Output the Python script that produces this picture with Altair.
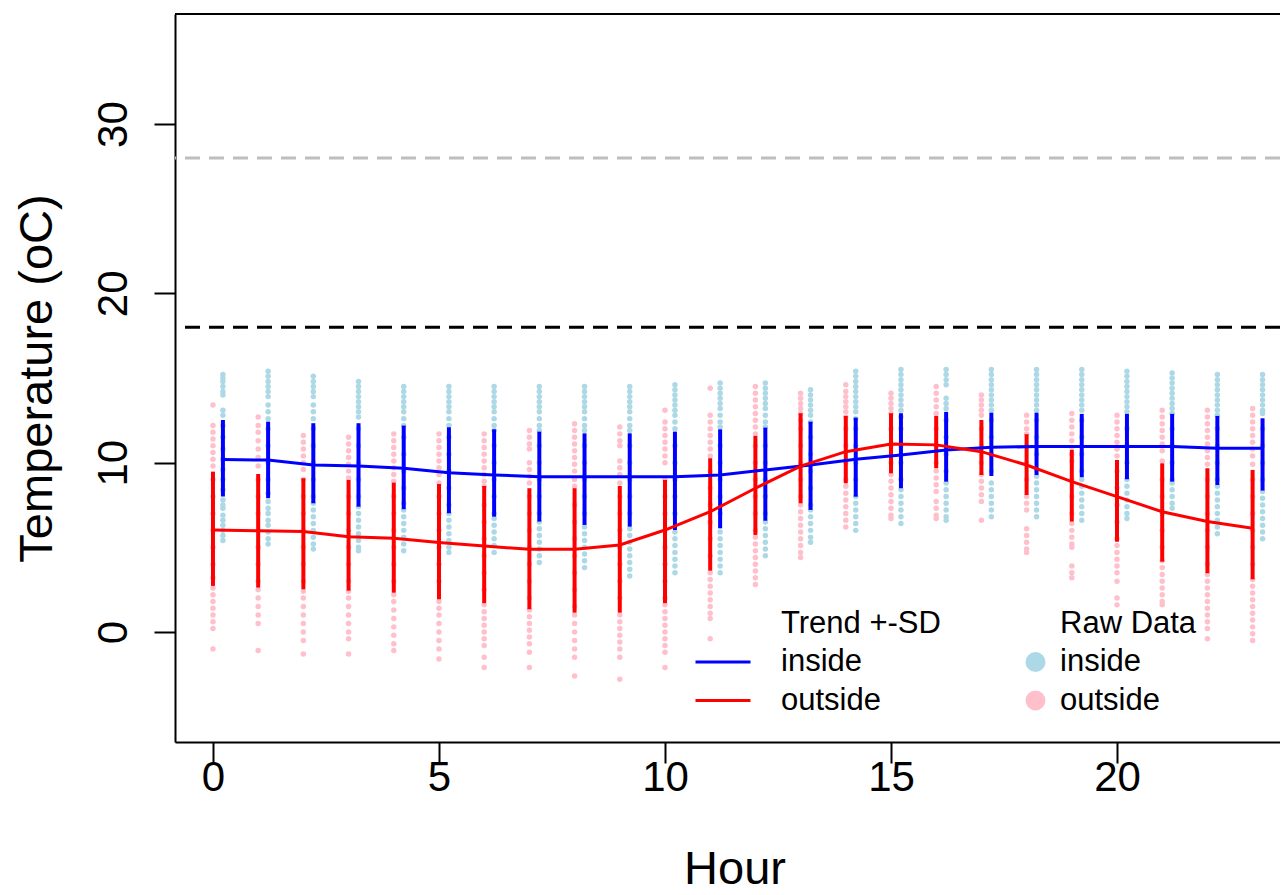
import altair as alt
import pandas as pd

hours = list(range(24))

inside_mean = [10.18, 10.15, 9.86, 9.80, 9.67, 9.41, 9.27, 9.17, 9.17, 9.17, 9.17, 9.27,
               9.57, 9.86, 10.20, 10.45, 10.75, 10.91, 10.95, 10.95, 10.95, 10.95, 10.85, 10.85]
inside_upper = [12.52, 12.42, 12.33, 12.33, 12.19, 12.09, 11.97, 11.83, 11.73, 11.73, 11.83, 11.97,
                12.07, 12.42, 12.66, 12.92, 13.00, 12.95, 12.95, 12.88, 12.88, 12.88, 12.76, 12.62]
inside_lower = [8.00, 7.90, 7.60, 7.40, 7.25, 7.01, 6.81, 6.52, 6.32, 6.22, 6.02, 6.12,
                6.57, 7.21, 7.99, 8.49, 8.88, 9.21, 9.27, 9.14, 9.02, 8.88, 8.68, 8.35]

outside_mean = [6.02, 5.98, 5.93, 5.63, 5.53, 5.28, 5.08, 4.88, 4.88, 5.14, 6.02, 7.10,
                8.49, 9.80, 10.65, 11.10, 11.05, 10.65, 9.86, 8.88, 7.99, 7.10, 6.52, 6.12]
outside_upper = [9.47, 9.33, 9.08, 8.98, 8.82, 8.74, 8.62, 8.49, 8.49, 8.62, 8.98, 10.26,
                 11.58, 12.92, 12.76, 12.92, 12.76, 12.52, 11.68, 10.75, 10.16, 9.96, 9.67, 9.57]
outside_lower = [2.72, 2.62, 2.52, 2.44, 2.32, 1.93, 1.70, 1.34, 1.14, 1.14, 1.70, 3.62,
                 5.73, 7.60, 8.78, 9.37, 9.67, 9.27, 8.09, 6.52, 5.33, 4.15, 3.47, 3.11]

inside_raw = [
    [15.2, 15.0, 14.8, 14.5, 14.2, 14.0, 13.1, 12.8, 12.2, 11.5, 10.8, 10.2, 9.6, 9.0, 8.4, 7.8, 7.5, 7.3, 6.9, 6.6, 6.3, 6.0, 5.7, 5.4],
    [15.4, 15.1, 14.8, 14.5, 14.2, 13.9, 13.4, 13.0, 12.6, 12.0, 11.0, 10.0, 9.0, 8.2, 7.7, 7.3, 7.0, 6.6, 6.3, 5.9, 5.5, 5.2],
    [15.1, 14.8, 14.5, 14.2, 13.9, 13.4, 13.0, 12.6, 12.0, 11.0, 10.0, 9.0, 8.0, 7.6, 7.2, 6.8, 6.4, 6.0, 5.6, 5.2, 4.9],
    [14.8, 14.5, 14.2, 13.9, 13.6, 13.3, 13.0, 12.7, 12.0, 11.0, 10.0, 9.0, 8.0, 7.4, 7.0, 6.6, 6.2, 5.8, 5.4, 5.0, 4.8],
    [14.5, 14.2, 13.9, 13.6, 13.3, 13.0, 12.6, 12.2, 11.5, 10.5, 9.5, 8.5, 7.6, 7.2, 6.8, 6.4, 6.0, 5.6, 5.2, 4.8],
    [14.5, 14.2, 13.9, 13.6, 13.3, 13.0, 12.6, 12.2, 11.5, 10.5, 9.5, 8.5, 7.5, 7.0, 6.6, 6.2, 5.8, 5.4, 5.0, 4.7],
    [14.5, 14.2, 13.9, 13.6, 13.3, 13.0, 12.6, 12.2, 11.9, 11.0, 10.0, 9.0, 8.0, 7.0, 6.7, 6.3, 5.9, 5.5, 5.1, 4.7],
    [14.5, 14.2, 13.9, 13.6, 13.3, 13.0, 12.6, 12.2, 11.9, 11.0, 10.0, 9.0, 8.0, 7.0, 6.5, 6.1, 5.7, 5.3, 4.9, 4.5, 4.1],
    [14.5, 14.2, 13.9, 13.6, 13.3, 13.0, 12.6, 12.2, 11.9, 11.0, 10.0, 9.0, 8.0, 7.0, 6.2, 5.8, 5.4, 5.0, 4.6, 4.2, 3.8],
    [14.5, 14.2, 13.9, 13.6, 13.3, 13.0, 12.6, 12.2, 11.9, 11.0, 10.0, 9.0, 8.0, 7.0, 6.1, 5.7, 5.3, 4.9, 4.5, 4.1, 3.7, 3.3],
    [14.6, 14.3, 14.0, 13.7, 13.4, 13.1, 12.8, 12.4, 12.0, 11.0, 10.0, 9.0, 8.0, 7.0, 5.9, 5.5, 5.1, 4.7, 4.3, 3.9, 3.5],
    [14.7, 14.4, 14.1, 13.8, 13.5, 13.2, 12.8, 12.4, 12.1, 11.0, 10.0, 9.0, 8.0, 7.0, 5.9, 5.5, 5.1, 4.7, 4.3, 3.9, 3.5],
    [14.7, 14.4, 14.1, 13.8, 13.5, 13.2, 12.8, 12.4, 12.1, 11.0, 10.0, 9.0, 8.0, 7.0, 6.5, 6.1, 5.7, 5.3, 4.9, 4.5],
    [14.3, 14.0, 13.7, 13.4, 13.1, 12.8, 12.4, 11.5, 10.5, 9.5, 8.5, 7.5, 7.2, 6.8, 6.4, 6.0, 5.6, 5.3],
    [15.4, 15.1, 14.8, 14.5, 14.2, 13.9, 13.6, 13.3, 13.0, 12.6, 12.0, 11.0, 10.0, 9.0, 8.0, 7.6, 7.2, 6.8, 6.4, 6.0],
    [15.5, 15.2, 14.9, 14.6, 14.3, 14.0, 13.7, 13.4, 13.1, 12.7, 12.0, 11.0, 10.0, 9.0, 8.4, 8.0, 7.6, 7.2, 6.8, 6.4],
    [15.5, 15.2, 14.9, 14.6, 13.8, 13.5, 13.2, 12.5, 11.5, 10.5, 9.5, 8.8, 8.4, 8.0, 7.6, 7.2, 6.8, 6.6],
    [15.5, 15.2, 14.9, 14.6, 14.3, 14.0, 13.7, 13.4, 13.1, 12.5, 11.5, 10.5, 9.5, 8.8, 8.4, 8.0, 7.6, 7.2, 6.8],
    [15.5, 15.2, 14.9, 14.6, 14.3, 14.0, 13.7, 13.4, 13.1, 12.5, 11.5, 10.5, 9.6, 9.2, 8.8, 8.4, 8.0, 7.6, 7.2, 6.8],
    [15.5, 15.2, 14.9, 14.6, 14.3, 14.0, 13.7, 13.4, 13.1, 12.5, 11.5, 10.5, 9.5, 9.0, 8.6, 8.2, 7.8, 7.4, 7.0, 6.6],
    [15.4, 15.1, 14.8, 14.5, 14.2, 13.9, 13.6, 13.3, 13.0, 12.0, 11.0, 10.0, 9.0, 8.6, 8.2, 7.8, 7.4, 7.0, 6.7],
    [15.3, 15.0, 14.7, 14.4, 14.1, 13.8, 13.5, 13.2, 12.9, 12.0, 11.0, 10.0, 9.0, 8.8, 8.4, 8.0, 7.6, 7.3],
    [15.2, 14.9, 14.6, 14.3, 14.0, 13.7, 13.4, 13.1, 12.8, 12.0, 11.0, 10.0, 9.0, 8.6, 8.2, 7.8, 7.4, 7.0, 6.6, 6.2, 5.8],
    [15.2, 14.9, 14.6, 14.3, 14.0, 13.7, 13.4, 13.1, 12.9, 12.0, 11.0, 10.0, 9.0, 8.3, 7.9, 7.5, 7.1, 6.7, 6.3, 5.9, 5.5],
]

outside_raw = [
    [13.4, 12.2, 11.8, 11.4, 11.0, 10.6, 10.2, 9.8, 9.0, 8.0, 7.0, 6.0, 5.0, 4.0, 3.2, 2.6, 2.2, 1.8, 1.4, 1.0, 0.6, 0.2, -1.0],
    [12.7, 12.2, 11.8, 11.3, 10.8, 10.3, 9.8, 9.0, 8.0, 7.0, 6.0, 5.0, 4.0, 3.0, 2.5, 2.0, 1.5, 1.0, 0.5, -1.1],
    [11.6, 11.2, 10.8, 10.4, 10.0, 9.6, 9.0, 8.0, 7.0, 6.0, 5.0, 4.0, 3.0, 2.4, 2.0, 1.5, 1.0, 0.5, 0.0, -0.5, -1.3],
    [11.5, 11.1, 10.7, 10.3, 9.9, 9.5, 9.1, 8.0, 7.0, 6.0, 5.0, 4.0, 3.0, 2.4, 2.0, 1.5, 1.0, 0.5, 0.0, -0.4, -1.3],
    [11.7, 11.3, 10.9, 10.5, 10.1, 9.7, 9.3, 8.9, 8.0, 7.0, 6.0, 5.0, 4.0, 3.0, 2.2, 1.8, 1.3, 0.8, 0.3, -0.2, -0.7, -1.1],
    [11.7, 11.3, 10.9, 10.5, 10.1, 9.7, 9.3, 8.8, 8.0, 7.0, 6.0, 5.0, 4.0, 3.0, 1.8, 1.4, 1.0, 0.5, 0.0, -0.5, -1.0, -1.6],
    [11.7, 11.3, 10.9, 10.5, 10.1, 9.7, 9.3, 8.9, 8.6, 7.5, 6.5, 5.5, 4.5, 3.5, 2.5, 1.6, 1.2, 0.8, 0.4, 0.0, -0.4, -0.8, -1.5, -2.1],
    [11.9, 11.5, 11.1, 10.8, 10.0, 9.6, 9.2, 8.8, 8.0, 7.0, 6.0, 5.0, 4.0, 3.0, 2.0, 1.3, 0.9, 0.5, 0.1, -0.3, -0.7, -1.2, -2.1],
    [12.3, 11.9, 11.5, 11.1, 10.7, 10.3, 9.9, 9.5, 9.0, 8.6, 7.5, 6.5, 5.5, 4.5, 3.5, 2.5, 1.5, 1.0, 0.5, 0.0, -0.5, -1.0, -1.5, -2.6],
    [12.1, 11.7, 11.3, 11.0, 10.1, 9.7, 9.3, 8.8, 8.0, 7.0, 6.0, 5.0, 4.0, 3.0, 2.0, 1.0, 0.6, 0.2, -0.2, -0.6, -1.0, -1.5, -2.8],
    [13.1, 12.4, 12.0, 11.6, 11.2, 10.8, 10.4, 10.0, 9.0, 8.0, 7.0, 6.0, 5.0, 4.0, 3.0, 2.0, 1.6, 1.2, 0.8, 0.4, 0.0, -0.4, -0.8, -1.2, -2.1],
    [14.4, 12.8, 12.4, 12.0, 11.6, 11.2, 10.8, 10.4, 9.5, 8.5, 7.5, 6.5, 5.5, 4.5, 3.5, 3.1, 2.7, 2.3, 1.9, 1.5, 1.1, 0.8, -0.4],
    [14.5, 14.1, 13.7, 13.3, 12.9, 12.5, 12.1, 11.7, 11.0, 10.0, 9.0, 8.0, 7.0, 6.0, 5.6, 5.2, 4.8, 4.4, 4.0, 3.6, 3.2, 2.8],
    [14.1, 13.8, 13.5, 13.2, 12.9, 12.5, 12.0, 11.0, 10.0, 9.0, 8.0, 7.5, 7.1, 6.7, 6.3, 5.9, 5.5, 5.1, 4.7, 4.4],
    [14.6, 14.2, 13.9, 13.6, 13.3, 13.0, 12.7, 12.0, 11.0, 10.0, 9.0, 8.6, 8.2, 7.8, 7.4, 7.0, 6.6, 6.2],
    [14.1, 13.8, 13.5, 13.2, 12.9, 12.0, 11.0, 10.0, 9.3, 8.9, 8.5, 8.1, 7.7, 7.3, 6.9, 6.7],
    [14.5, 14.1, 13.7, 13.3, 12.9, 12.0, 11.0, 10.0, 9.5, 9.1, 8.7, 8.3, 7.7, 7.3, 6.9, 6.7],
    [14.0, 13.7, 13.4, 13.1, 12.8, 12.0, 11.0, 10.0, 9.3, 8.9, 8.5, 8.1, 7.7, 6.6],
    [12.8, 12.4, 12.0, 11.7, 11.0, 10.0, 9.0, 8.0, 7.6, 7.2, 6.1, 5.7, 5.3, 4.9, 4.7],
    [12.9, 12.5, 12.1, 11.7, 11.3, 10.9, 10.5, 10.1, 9.0, 8.0, 7.0, 6.4, 6.0, 5.6, 5.2, 5.0, 3.9, 3.5, 3.2],
    [12.8, 12.4, 12.0, 11.6, 11.2, 10.8, 10.4, 9.5, 8.5, 7.5, 6.5, 5.5, 5.1, 4.7, 4.3, 3.9, 3.5, 3.0, 2.0, 1.6],
    [13.1, 12.7, 12.3, 11.9, 11.5, 11.1, 10.7, 10.1, 9.0, 8.0, 7.0, 6.0, 5.0, 4.2, 3.8, 3.4, 3.0, 2.6, 2.2, 1.8, 1.6],
    [13.1, 12.7, 12.3, 11.9, 11.5, 11.1, 10.7, 10.3, 9.9, 9.0, 8.0, 7.0, 6.0, 5.0, 4.0, 3.4, 3.0, 2.6, 2.2, 1.8, 1.4, 1.0, 0.6, 0.2, -0.4],
    [13.2, 12.8, 12.4, 12.0, 11.6, 11.2, 10.8, 10.4, 9.9, 9.0, 8.0, 7.0, 6.0, 5.0, 4.0, 3.1, 2.7, 2.3, 1.9, 1.5, 1.1, 0.7, 0.3, -0.1, -0.5],
]

thresholds = [18, 28]
threshold_colors = ["#000000", "#BEBEBE"]

title_text = "Winter Te Whaiti (TWT) House 10 (7 June - 15 August)"
x_ticks = [0, 5, 10, 15, 20]
y_ticks = [0, 10, 20, 30]

# ---- tables ----
trend_rows = []
for h in hours:
    trend_rows.append({"hour": h, "series": "inside", "mean": inside_mean[h],
                       "lower": inside_lower[h], "upper": inside_upper[h]})
    trend_rows.append({"hour": h, "series": "outside", "mean": outside_mean[h],
                       "lower": outside_lower[h], "upper": outside_upper[h]})
trend_df = pd.DataFrame(trend_rows)

raw_rows = []
for h in hours:
    for v in inside_raw[h]:
        raw_rows.append({"hour": h, "series": "inside", "temp": v})
    for v in outside_raw[h]:
        raw_rows.append({"hour": h, "series": "outside", "temp": v})
raw_df = pd.DataFrame(raw_rows)

W, H = 1105, 728
FONT = "Liberation Sans"
dodge = "datum.hour + (datum.series == 'inside' ? 0.22 : 0)"

x_scale = alt.Scale(domain=[-0.84, 23.606], nice=False, zero=False)
y_scale = alt.Scale(domain=[-6.5, 36.5], nice=False, zero=False)

x_axis = alt.Axis(values=x_ticks, title="Hour", grid=False, labelFontSize=42, titleFontSize=47,
                  labelFont=FONT, titleFont=FONT, titleFontWeight="normal",
                  labelColor="black", titleColor="black", tickSize=21, tickWidth=2,
                  tickColor="black", domainColor="black", domainWidth=2,
                  labelPadding=-6, labelFlush=False, titleX=559.5, titleY=141,
                  titleBaseline="alphabetic", titleAlign="center")
y_axis = alt.Axis(values=y_ticks, title="Temperature (oC)", grid=False, labelFontSize=42,
                  titleFontSize=47, labelFont=FONT, titleFont=FONT, titleFontWeight="normal",
                  labelColor="black", titleColor="black", tickSize=21, tickWidth=2,
                  tickColor="black", domainColor="black", domainWidth=2,
                  labelAngle=270, labelAlign="center", labelBaseline="alphabetic",
                  labelPadding=28, labelFlush=False, titleAngle=270, titleX=-124,
                  titleY=H / 2, titleBaseline="alphabetic", titleAlign="center")

stroke_scale = alt.Scale(domain=["Trend +-SD", "inside", "outside"],
                         range=["rgba(0,0,0,0)", "#0000FF", "#FF0000"])
fill_scale = alt.Scale(domain=["Raw Data", "inside", "outside"],
                       range=["rgba(0,0,0,0)", "#ADD8E6", "#FFC0CB"])

trend_legend = alt.Legend(title=None, orient="none", legendX=532.5, legendY=594,
                          symbolType="M-2.5,0H2.5", symbolSize=484, symbolStrokeWidth=3,
                          labelFontSize=31, labelFont=FONT, labelColor="black",
                          labelOffset=42.5, rowPadding=6.5, padding=0, labelLimit=0)
raw_legend = alt.Legend(title=None, orient="none", legendX=845, legendY=594,
                        symbolType="circle", symbolSize=400, symbolStrokeWidth=0,
                        symbolOpacity=1, labelFontSize=31, labelFont=FONT, labelColor="black",
                        labelOffset=9, rowPadding=6.5, padding=0, labelLimit=0)

X = alt.X("xpos:Q", scale=x_scale, axis=x_axis, title="Hour")

points = alt.Chart(raw_df).transform_calculate(xpos=dodge).mark_circle(
    size=30, opacity=1).encode(
    x=X,
    y=alt.Y("temp:Q", scale=y_scale, axis=y_axis, title="Temperature (oC)"),
    fill=alt.Fill("series:N", scale=fill_scale, legend=raw_legend),
)

thresh_layers = []
for t, c in zip(thresholds, threshold_colors):
    thresh_layers.append(
        alt.Chart(pd.DataFrame({"level": [t]})).mark_rule(
            color=c, strokeWidth=3, strokeDash=[15, 9]).encode(
            y=alt.Y("level:Q", scale=y_scale, axis=y_axis, title="Temperature (oC)"))
    )

bars = alt.Chart(trend_df).transform_calculate(xpos=dodge).mark_rule(strokeWidth=4).encode(
    x=X,
    y=alt.Y("lower:Q", scale=y_scale, axis=y_axis, title="Temperature (oC)"),
    y2="upper:Q",
    stroke=alt.Stroke("series:N", scale=stroke_scale, legend=trend_legend),
)

lines = alt.Chart(trend_df).transform_calculate(xpos=dodge).mark_line(strokeWidth=3).encode(
    x=X,
    y=alt.Y("mean:Q", scale=y_scale, axis=y_axis, title="Temperature (oC)"),
    stroke=alt.Stroke("series:N", scale=stroke_scale, legend=trend_legend),
    order="hour:Q",
)

top_border = alt.Chart(pd.DataFrame({"k": [0]})).mark_rule(color="black", strokeWidth=2).encode(
    x=alt.value(0), x2=alt.value(W), y=alt.value(0))

chart = alt.layer(points, *thresh_layers, bars, lines, top_border).properties(
    width=W, height=H,
    title=alt.TitleParams(text=title_text, fontSize=38, fontWeight="bold", font=FONT,
                          color="black", anchor="middle", baseline="alphabetic",
                          offset=1, dx=6),
    padding={"left": 167, "top": 6, "right": 0, "bottom": 165},
    autosize=alt.AutoSizeParams(type="none"),
).configure_view(stroke=None).configure(font=FONT, background="white")

chart.save("out.html", embed_options={"renderer": "svg", "actions": False})
